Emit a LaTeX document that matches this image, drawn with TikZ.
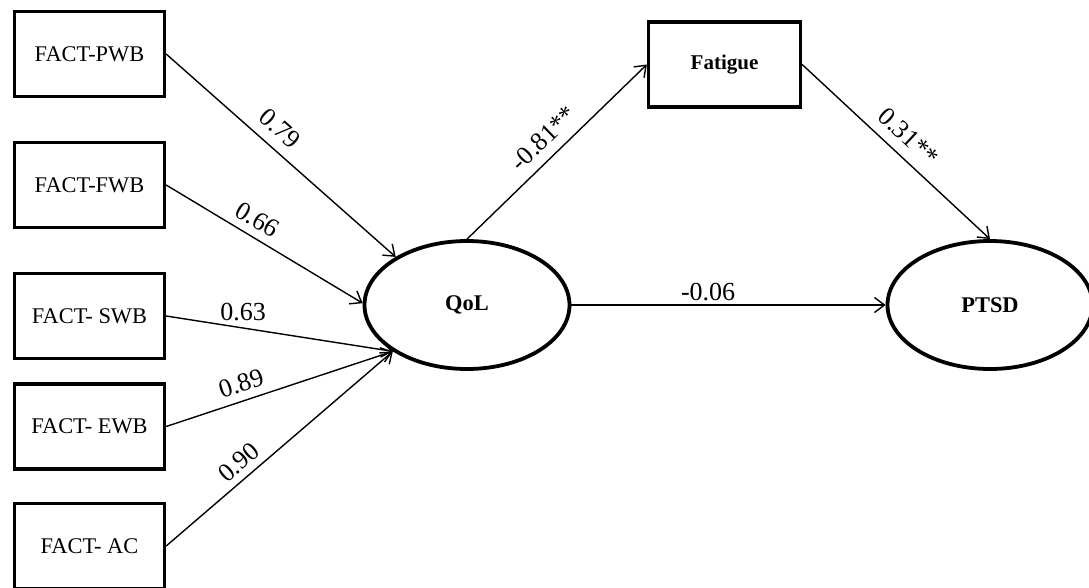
\documentclass[tikz,border=0pt]{standalone}
\usepackage{fontspec}
\setmainfont{Liberation Serif}
\usetikzlibrary{arrows.meta,shapes.geometric}
\begin{document}
\begin{tikzpicture}[x=1pt,y=-1pt,
 obs/.style={draw, line width=3.3pt, minimum width=150pt, minimum height=85pt, inner sep=0pt, font=\fontsize{22.4}{26}\selectfont},
 obsb/.style={obs, font=\bfseries\fontsize{21}{26}\selectfont, minimum width=152pt},
 lat/.style={draw, ellipse, line width=3.8pt, minimum width=205pt, minimum height=128pt, inner sep=0pt, font=\bfseries\fontsize{22.4}{26}\selectfont},
 arr/.style={line width=1.4pt, -{Straight Barb[length=10pt,width=15pt,line width=1.4pt]}},
 lbl/.style={font=\fontsize{26}{30}\selectfont, inner sep=2pt}
]
\useasboundingbox (0,0) rectangle (1089,587);
\fill[white] (0,0) rectangle (1089,587);

\node[obs] (pwb) at (89.5,54) {FACT-PWB};
\node[obs] (fwb) at (89.5,185) {FACT-FWB};
\node[obs] (swb) at (89.5,316) {FACT- SWB};
\node[obs] (ewb) at (89.5,426.5) {FACT- EWB};
\node[obs] (ac) at (89.5,546) {FACT- AC};

\node[lat] (qol) at (467,305) {QoL};
\node[lat] (ptsd) at (990,305) {PTSD};
\node[obsb] (fat) at (724.5,64.5) {Fatigue};

\draw[arr] (pwb.east) -- node[lbl, sloped, above=8pt, pos=0.44] {0.79} (qol.146);
\draw[arr] (fwb.east) -- node[lbl, sloped, above=6pt, pos=0.42] {0.66} (qol.179);
\draw[arr] (swb.east) -- node[lbl, above=4pt, pos=0.34] {0.63} (qol.212);
\draw[arr] (ewb.east) -- node[lbl, sloped, above=6pt, pos=0.355] {0.89} (qol.212);
\draw[arr] (ac.east) -- node[lbl, sloped, above=4.7pt, pos=0.367] {0.90} (qol.212);

\draw[arr] (qol.north) -- node[lbl, sloped, above=7.6pt, pos=0.5] {-0.81**} (fat.west);
\draw[arr] (fat.east) -- node[lbl, sloped, above=8pt, pos=0.496] {0.31**} (ptsd.north);
\draw[arr] (qol.east) -- node[lbl, above=1pt, pos=0.435] {-0.06} (ptsd.west);
\end{tikzpicture}
\end{document}
